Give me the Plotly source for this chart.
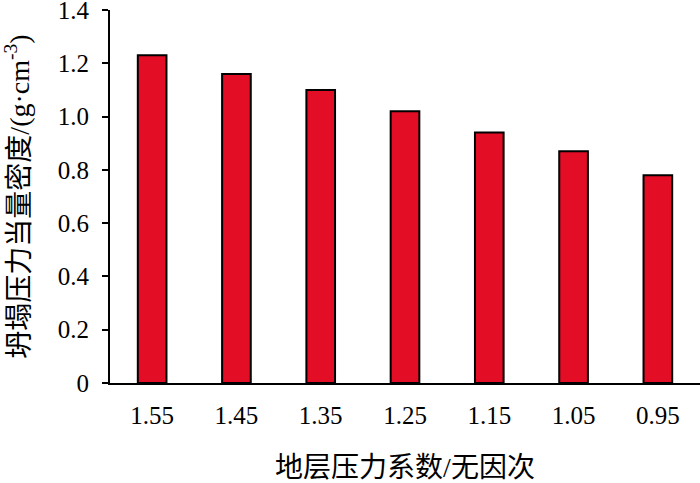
import plotly.graph_objects as go

categories = ["1.55", "1.45", "1.35", "1.25", "1.15", "1.05", "0.95"]
values = [1.23, 1.16, 1.10, 1.02, 0.94, 0.87, 0.78]
y_ticks = [0, 0.2, 0.4, 0.6, 0.8, 1.0, 1.2, 1.4]
y_tick_text = ["0", "0.2", "0.4", "0.6", "0.8", "1.0", "1.2", "1.4"]

FONT = "'Liberation Serif', 'Noto Sans CJK SC', serif"

fig = go.Figure(go.Bar(
    x=categories, y=values,
    marker=dict(color="#E30D25", line=dict(color="black", width=2)),
))

fig.update_layout(
    width=700, height=483,
    margin=dict(l=110, r=0, t=10, b=100),
    plot_bgcolor="white", paper_bgcolor="white",
    bargap=0.66,
    showlegend=False,
    font=dict(family=FONT, color="black", size=24),
)
fig.update_xaxes(
    type="category",
    automargin=False,
    showline=True, linecolor="black", linewidth=2,
    ticks="", showgrid=False,
    ticklabelstandoff=9,
    tickfont=dict(size=25, family=FONT),
    title=dict(text="地层压力系数/无因次", font=dict(size=28, family=FONT), standoff=30),
)
fig.update_yaxes(
    range=[0, 1.4],
    automargin=False,
    ticklabeloverflow="allow",
    ticklabelstandoff=8,
    tickvals=y_ticks, ticktext=y_tick_text,
    showline=True, linecolor="black", linewidth=2,
    ticks="outside", ticklen=6, tickwidth=2, tickcolor="black",
    showgrid=False, zeroline=False,
    tickfont=dict(size=25, family=FONT),
    title=dict(text="坍塌压力当量密度/(g·cm<sup>-3</sup>)", font=dict(size=28, family=FONT), standoff=24),
)

fig.write_html("out.html", config={"displayModeBar": False},
               post_script="document.body.style.margin='0';document.body.style.padding='0';")
